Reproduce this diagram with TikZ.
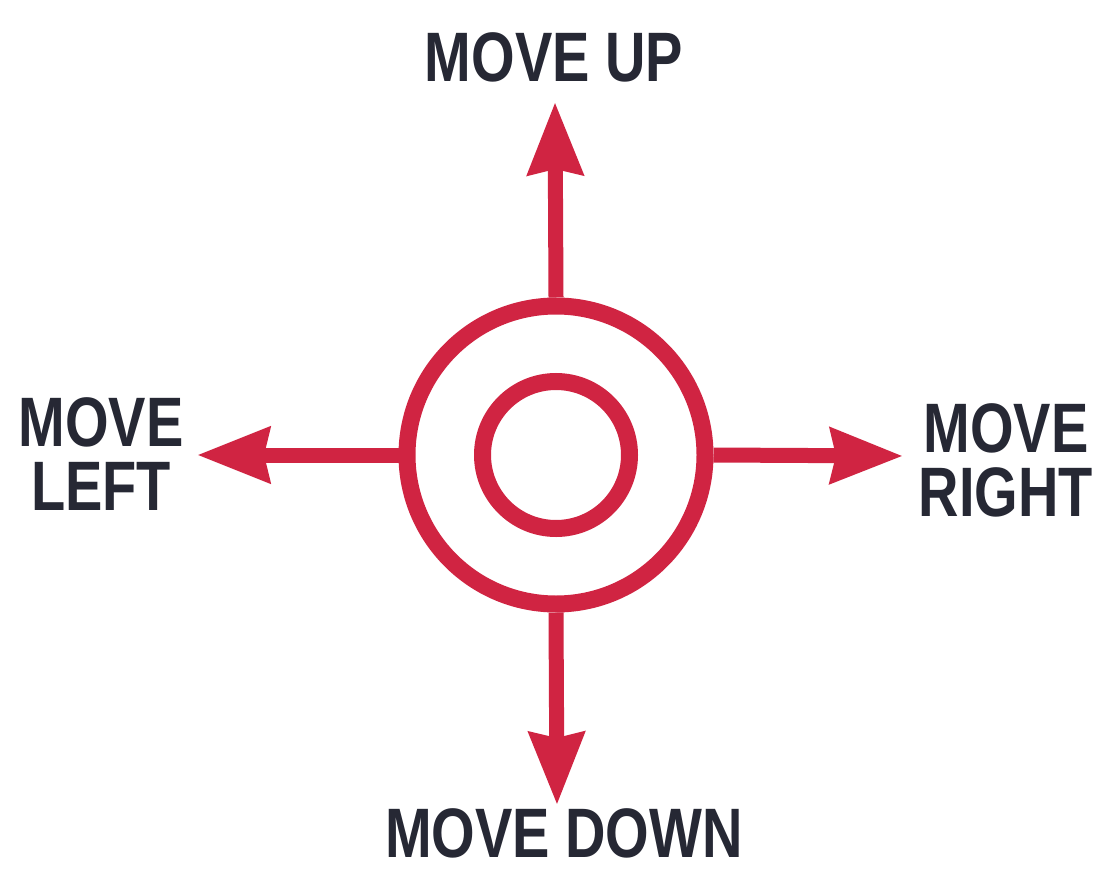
\documentclass[tikz,border=0pt]{standalone}
\usepackage{fontspec}
\newfontfamily\lblfont[FakeStretch=0.8,BoldFeatures={FakeStretch=0.8}]{Liberation Sans}
\usetikzlibrary{arrows.meta}
\definecolor{ringred}{RGB}{208,36,66}
\definecolor{lbltext}{RGB}{38,40,52}
\tikzset{
  ring/.style={circle, draw=ringred, line width=17pt, inner sep=0pt, fill=none},
  arr/.style={draw=ringred, line width=15pt, -{Stealth[length=72pt,width=54pt,inset=5pt]}},
  lbl/.style={text=lbltext, font=\lblfont\bfseries\fontsize{70}{64}\selectfont, align=center, inner sep=0pt}
}
\begin{document}
\begin{tikzpicture}[x=1pt,y=-1pt]
\useasboundingbox[fill=white] (0,0) rectangle (1095,869);
\node[ring, minimum size=298pt] (outer) at (556,455) {};
\node[ring, minimum size=147pt] (inner) at (556,455) {};
\coordinate (uptip) at (555,102);
\coordinate (downtip) at (557,805);
\coordinate (lefttip) at (197,455);
\coordinate (righttip) at (903,456);
\draw[arr] (outer.north) -- (uptip);
\draw[arr] (outer.south) -- (downtip);
\draw[arr] (outer.west) -- (lefttip);
\draw[arr] (outer.east) -- (righttip);
\node[lbl] (up) at (554,57) {MOVE UP};
\node[lbl] (down) at (564,833) {MOVE DOWN};
\node[lbl] (left) at (101,454) {MOVE\\LEFT};
\node[lbl] (right) at (1006,460) {MOVE\\RIGHT};
\end{tikzpicture}
\end{document}
